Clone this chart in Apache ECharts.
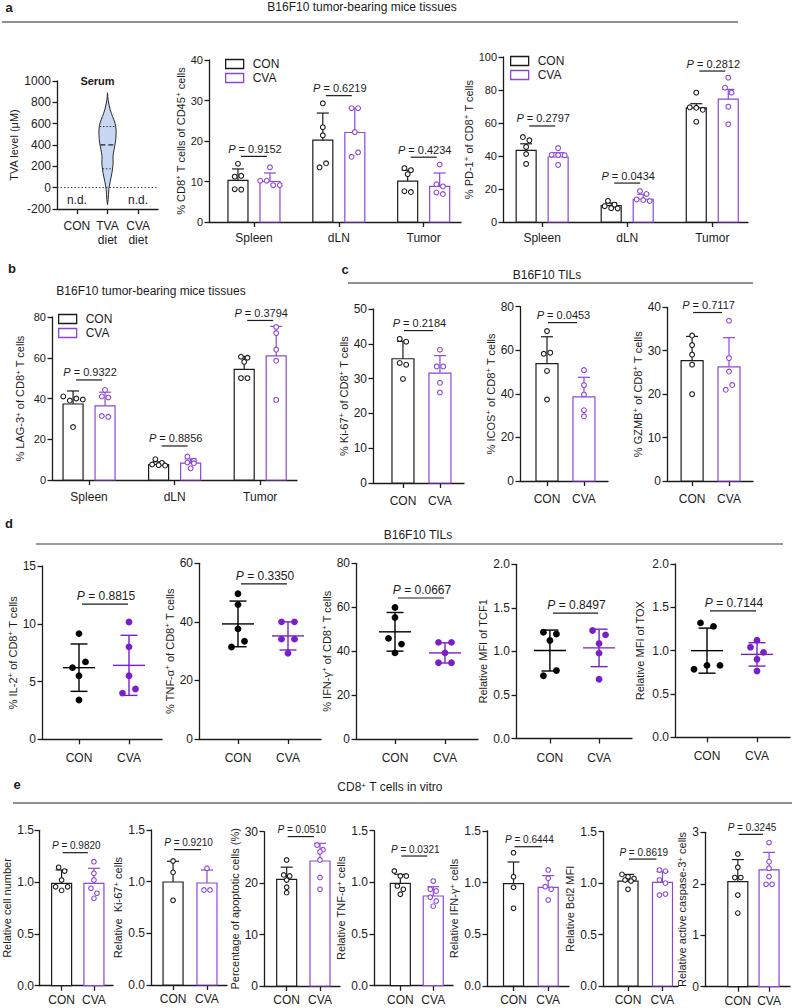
<!DOCTYPE html>
<html><head><meta charset="utf-8">
<script src="https://cdn.jsdelivr.net/npm/echarts@6/dist/echarts.min.js"></script>
<style>html,body{margin:0;padding:0;background:#fff}#chart{width:793px;height:1008px}</style>
</head><body><div id="chart"></div>
<script>
// ================= DATA =================
// a (left): serum TVA violin
const violinGroups = ['CON', 'TVA\ndiet', 'CVA\ndiet'];
const violinLevels = [-160, -110, -15, 60, 140, 230, 295, 370, 450, 540, 605, 665, 730, 820, 890];
const violinDensity = [0, 0.08, 0.16, 0.32, 0.52, 0.66, 0.64, 0.8, 0.96, 1.0, 0.88, 0.6, 0.32, 0.08, 0];
const violinQuartiles = [177, 402, 573];

const tissues = ['Spleen', 'dLN', 'Tumor'];
const twoGroups = ['CON', 'CVA'];

// a (middle): % CD8+ of CD45+
const cd45ConMean = [10.3, 20.2, 10.1];
const cd45ConSD = [2.8, 6.7, 2.7];
const cd45ConPts = [[14.4, 11.2, 11.4, 8.1, 8.0], [29.3, 23.4, 21.4, 13.5, 14.5], [13.3, 12.8, 11.8, 7.6, 7.4]];
const cd45CvaMean = [10.0, 22.1, 8.8];
const cd45CvaSD = [2.1, 6.0, 3.3];
const cd45CvaPts = [[13.5, 10.2, 10.2, 9.1, 9.1], [28.1, 28.1, 22.2, 16.1, 17.2], [14.2, 9.3, 8.8, 7.3, 6.9]];
const cd45P = ['0.9152', '0.6219', '0.4234'];
const cd45PY = [16.2, 31.2, 16.0];

// a (right): % PD-1+ of CD8+
const pd1ConMean = [43.4, 10.0, 69.2];
const pd1ConSD = [4.0, 1.5, 2.5];
const pd1ConPts = [[51.5, 49.5, 45.5, 41.2, 35.2], [12.8, 10.5, 9.6, 8.4, 8.2], [78.4, 69.5, 69.2, 68.0, 60.8]];
const pd1CvaMean = [39.4, 13.8, 74.5];
const pd1CvaSD = [2.6, 3.0, 5.9];
const pd1CvaPts = [[44.8, 40.8, 40.6, 40.5, 34.6], [18.8, 17.0, 13.7, 13.3, 12.7], [87.5, 81.4, 78.4, 69.9, 59.2]];
const pd1P = ['0.2797', '0.0434', '0.2812'];
const pd1PY = [58.2, 23.6, 91.5];

// b: % LAG-3+ of CD8+
const lag3ConMean = [37.3, 7.6, 54.3];
const lag3ConSD = [6.4, 1.3, 6.3];
const lag3ConPts = [[41.0, 39.0, 40.0, 39.5, 26.0], [10.2, 8.4, 7.6, 7.3, 7.1], [60.5, 60.0, 58.0, 50.0, 50.0]];
const lag3CvaMean = [36.4, 8.3, 60.9];
const lag3CvaSD = [6.7, 2.1, 14.5];
const lag3CvaPts = [[44.2, 41.0, 40.5, 31.4, 31.0], [11.5, 9.4, 8.6, 8.2, 5.7], [75.1, 72.1, 64.0, 58.5, 39.3]];
const lag3P = ['0.9322', '0.8856', '0.3794'];
const lag3PY = [49.1, 16.7, 78.3];

// c: B16F10 TILs  [CON, CVA]
const ki67Mean = [35.7, 31.6];
const ki67SD = [5.0, 5.0];
const ki67Pts = [[41.4, 40.6, 34.5, 34.0, 29.9], [38.3, 33.5, 33.5, 28.8, 26.0]];
const ki67P = ['0.2184'];
const ki67PY = [43.8];

const icosMean = [53.9, 38.6];
const icosSD = [12.3, 9.0];
const icosPts = [[68.8, 58.4, 58.9, 50.5, 37.4], [50.9, 44.0, 39.7, 32.5, 29.7]];
const icosP = ['0.0453'];
const icosPY = [72.7];

const gzmbMean = [27.7, 26.3];
const gzmbSD = [5.6, 6.7];
const gzmbPts = [[33.5, 31.3, 29.1, 26.8, 20.0], [36.9, 28.3, 25.2, 21.0, 22.1]];
const gzmbP = ['0.7117'];
const gzmbPY = [38.8];

// d: B16F10 TILs (mean ± SD)
const il2Mean = [6.2, 6.4];
const il2SD = [2.05, 2.6];
const il2Pts = [[9.15, 6.2, 6.7, 5.5, 3.4], [10.15, 8.0, 5.5, 4.0, 4.35]];
const il2P = ['0.8815'];
const il2PY = [11.7];

const tnfMean = [39.3, 35.2];
const tnfSD = [7.8, 4.8];
const tnfPts = [[49.6, 45.9, 37.6, 31.4, 33.4], [40.0, 40.0, 34.1, 34.1, 29.3]];
const tnfP = ['0.3350'];
const tnfPY = [53.0];

const ifnMean = [48.8, 39.2];
const ifnSD = [8.8, 4.6];
const ifnPts = [[59.9, 55.3, 45.8, 43.2, 39.2], [44.0, 44.0, 39.2, 34.7, 34.7]];
const ifnP = ['0.0667'];
const ifnPY = [64.2];

const tcf1Mean = [1.01, 1.04];
const tcf1SD = [0.235, 0.215];
const tcf1Pts = [[1.22, 1.20, 1.125, 0.72, 0.78], [1.24, 1.19, 1.09, 0.98, 0.68]];
const tcf1P = ['0.8497'];
const tcf1PY = [1.44];

const toxMean = [1.0, 0.957];
const toxSD = [0.26, 0.135];
const toxPts = [[1.32, 1.28, 0.785, 0.83, 0.83], [1.12, 1.04, 0.98, 0.9, 0.765]];
const toxP = ['0.7144'];
const toxPY = [1.46];

// e: CD8+ T cells in vitro
const cellMean = [0.988, 0.988];
const cellSD = [0.129, 0.145];
const cellPts = [[1.143, 1.107, 1.02, 0.955, 0.92, 0.955], [1.197, 1.085, 1.02, 0.94, 0.892, 0.843]];
const cellP = ['0.9820'];
const cellPY = [1.284];

const ki67eMean = [0.997, 0.987];
const ki67eSD = [0.2, 0.126];
const ki67ePts = [[1.2, 1.09, 0.82], [1.13, 0.92, 0.92]];
const ki67eP = ['0.9210'];
const ki67ePY = [1.31];

const apopMean = [20.75, 24.3];
const apopSD = [2.35, 3.45];
const apopPts = [[24.5, 21.6, 20.6, 21.4, 19.2, 18.15], [27.4, 26.5, 26.1, 24.5, 21.1, 18.8]];
const apopP = ['0.0510'];
const apopPY = [29.05];

const tnfeMean = [0.99, 0.868];
const tnfeSD = [0.088, 0.09];
const tnfePts = [[1.11, 1.062, 1.062, 0.965, 0.933, 0.885], [1.013, 0.933, 0.917, 0.856, 0.82, 0.77]];
const tnfeP = ['0.0321'];
const tnfePY = [1.255];

const ifneMean = [0.99, 0.955];
const ifneSD = [0.21, 0.113];
const ifnePts = [[1.29, 1.058, 0.955, 0.752], [1.123, 1.042, 0.961, 0.936, 0.832]];
const ifneP = ['0.6444'];
const ifnePY = [1.348];

const bcl2Mean = [1.02, 1.008];
const bcl2SD = [0.065, 0.103];
const bcl2Pts = [[1.085, 1.062, 1.046, 1.03, 1.02, 0.94], [1.127, 1.117, 1.03, 1.0, 0.884, 0.894]];
const bcl2P = ['0.8619'];
const bcl2PY = [1.234];

const caspMean = [2.04, 2.27];
const caspSD = [0.43, 0.34];
const caspPts = [[2.58, 2.32, 2.12, 2.12, 1.78, 1.43], [2.80, 2.43, 2.30, 2.14, 1.99, 1.99]];
const caspP = ['0.3245'];
const caspPY = [2.96];

// ================= STYLE / LAYOUT =================
const FONT = 'Liberation Sans, Arial, Helvetica, sans-serif';
const INK = '#1c1c1c';
const PURPLE = '#8d47d8';
const PURPLE_D = '#7a1fc7';

const option = { backgroundColor: '#fff', animation: false, title: [], grid: [], xAxis: [], yAxis: [], series: [], legend: [], graphic: [] };

function richSup(fs, colorKey) {
  const s = { fontSize: Math.round(fs * 0.7), lineHeight: 8, verticalAlign: 'top', fontFamily: FONT };
  s[colorKey] = INK;
  return { s: s };
}

function swarm(ys, tol, step) {
  const n = ys.length;
  const order = ys.map((_, i) => i).sort((a, b) => (ys[a] - ys[b]) || (a - b));
  const offs = new Array(n).fill(0);
  let row = [];
  const flush = () => {
    const r = row.slice().sort((a, b) => a - b);
    r.forEach((id, j) => { offs[id] = (j - (r.length - 1) / 2) * step; });
  };
  order.forEach(id => {
    if (row.length && ys[id] - ys[row[0]] >= tol) { flush(); row = []; }
    row.push(id);
  });
  if (row.length) flush();
  return offs;
}

function groupRenderer(kind, st, color, pts, dx) {
  return function (params, api) {
    const i = params.dataIndex;
    const x = api.value(0), m = api.value(1), sd = api.value(2);
    const pM = api.coord([x, m]);
    const cx = pM[0] + dx;
    const ch = [];
    const ls = { stroke: color, lineWidth: st.lw };
    if (kind === 'bar') {
      const pB = api.coord([x, 0]);
      const pH = api.coord([x, m + sd]);
      ch.push({ type: 'rect', shape: { x: cx - st.barW / 2, y: pM[1], width: st.barW, height: pB[1] - pM[1] }, style: { fill: '#fff', stroke: color, lineWidth: st.lw } });
      ch.push({ type: 'line', shape: { x1: cx, y1: pM[1], x2: cx, y2: pH[1] }, style: ls });
      ch.push({ type: 'line', shape: { x1: cx - st.cap, y1: pH[1], x2: cx + st.cap, y2: pH[1] }, style: ls });
    } else {
      const pH = api.coord([x, m + sd]), pL = api.coord([x, m - sd]);
      ch.push({ type: 'line', shape: { x1: cx, y1: pL[1], x2: cx, y2: pH[1] }, style: ls });
      ch.push({ type: 'line', shape: { x1: cx - st.cap, y1: pH[1], x2: cx + st.cap, y2: pH[1] }, style: ls });
      ch.push({ type: 'line', shape: { x1: cx - st.cap, y1: pL[1], x2: cx + st.cap, y2: pL[1] }, style: ls });
      ch.push({ type: 'line', shape: { x1: cx - st.meanHalf, y1: pM[1], x2: cx + st.meanHalf, y2: pM[1] }, style: ls });
    }
    const vals = pts[i];
    const ys = vals.map(v => api.coord([x, v])[1]);
    const offs = swarm(ys, st.tol, st.step);
    vals.forEach((v, k) => {
      ch.push({ type: 'circle', shape: { cx: cx + offs[k], cy: ys[k], r: st.r },
        style: st.filled ? { fill: color } : { fill: '#fff', stroke: color, lineWidth: st.ptLw } });
    });
    return { type: 'group', children: ch };
  };
}

function pRenderer(labels, off1, off2, fs) {
  return function (params, api) {
    const a = api.coord([api.value(0), api.value(1)]);
    const b = api.coord([api.value(2), api.value(1)]);
    const x1 = a[0] + off1, x2 = b[0] + off2, y = a[1];
    return { type: 'group', children: [
      { type: 'line', shape: { x1: x1, y1: y, x2: x2, y2: y }, style: { stroke: INK, lineWidth: 1.2 } },
      { type: 'text', x: (x1 + x2) / 2 + 1, y: y - 2, style: {
        text: '{i|P} = ' + labels[params.dataIndex], fill: INK, fontSize: fs, fontFamily: FONT,
        align: 'center', verticalAlign: 'bottom',
        rich: { i: { fontStyle: 'italic', fontSize: fs, fontFamily: FONT, fill: INK } } } }
    ] };
  };
}

function addAxes(L, cats, yMin, yMax, yInt, yName, yFmt) {
  const gi = option.grid.length;
  option.grid.push({ left: L.x0, top: L.y0, width: L.x1 - L.x0, height: L.y1 - L.y0, containLabel: false, outerBoundsMode: 'none' });
  const ticks = cats.map((c, i) => i + 1);
  option.xAxis.push({ type: 'value', gridIndex: gi, min: L.xMin, max: L.xMax,
    axisLine: { show: true, onZero: false, lineStyle: { color: INK, width: 1.3 } },
    axisTick: { show: true, customValues: ticks, length: 5, lineStyle: { color: INK, width: 1.3 } },
    axisLabel: { show: true, customValues: ticks, formatter: v => cats[Math.round(v) - 1] || '', fontSize: L.xFont, color: INK, fontFamily: FONT, margin: L.xMargin, lineHeight: L.xLineHeight || 14 },
    splitLine: { show: false } });
  option.yAxis.push({ type: 'value', gridIndex: gi, min: yMin, max: yMax, interval: yInt,
    axisLine: { show: true, onZero: false, lineStyle: { color: INK, width: 1.3 } },
    axisTick: { show: true, length: 4.5, lineStyle: { color: INK, width: 1.3 } },
    axisLabel: { fontSize: L.yFont, color: INK, fontFamily: FONT, margin: L.yMargin || 6, formatter: yFmt || (v => String(v)) },
    splitLine: { show: false },
    name: yName, nameLocation: 'middle', nameRotate: 90, nameGap: L.nameGap,
    nameTextStyle: { fontSize: L.nameFont, color: INK, fontFamily: FONT, lineHeight: 12, rich: richSup(L.nameFont, 'color') } });
  return gi;
}

function addPanel(L, cfg) {
  const grouped = cfg.cats.length === 3;
  const gi = addAxes(L, cfg.cats, cfg.yMin, cfg.yMax, cfg.yInt, cfg.yName, cfg.yFmt);
  const st = L.st;
  const groups = [
    { name: 'CON', color: st.conColor, mean: cfg.conMean, sd: cfg.conSD, pts: cfg.conPts, sign: -1, idx: 0 },
    { name: 'CVA', color: st.cvaColor, mean: cfg.cvaMean, sd: cfg.cvaSD, pts: cfg.cvaPts, sign: 1, idx: 1 }
  ];
  groups.forEach(g => {
    let data, pts;
    if (grouped) {
      data = g.mean.map((m, i) => [i + 1, m, g.sd[i]]);
      pts = g.pts;
    } else {
      data = [[g.idx + 1, g.mean[g.idx], g.sd[g.idx]]];
      pts = [g.pts[g.idx]];
    }
    option.series.push({ type: 'custom', name: g.name, xAxisIndex: gi, yAxisIndex: gi, silent: true, z: 2,
      itemStyle: { color: g.color }, data: data,
      renderItem: groupRenderer(st.kind, st, g.color, pts, grouped ? g.sign * L.dx : 0) });
  });
  const pData = grouped ? cfg.pY.map((y, i) => [i + 1, y, i + 1]) : [[1, cfg.pY[0], 2]];
  option.series.push({ type: 'custom', xAxisIndex: gi, yAxisIndex: gi, silent: true, z: 3, data: pData,
    renderItem: pRenderer(cfg.p, L.pOff[0], L.pOff[1], L.pFont) });
}

function addLegend(left, top) {
  option.legend.push({ left: left, top: top, orient: 'vertical', itemWidth: 18, itemHeight: 9, itemGap: 2, padding: 0,
    selectedMode: false, textStyle: { fontSize: 12, color: INK, fontFamily: FONT, padding: [0, 0, 0, 4] },
    data: [
      { name: 'CON', icon: 'rect', itemStyle: { color: '#fff', borderColor: INK, borderWidth: 1.3 } },
      { name: 'CVA', icon: 'rect', itemStyle: { color: '#fff', borderColor: PURPLE, borderWidth: 1.3 } }
    ] });
}

const STY_BAR = { kind: 'bar', barW: 20, cap: 6, lw: 1.2, r: 2.4, ptLw: 1.1, tol: 5, step: 6.5, filled: false, conColor: INK, cvaColor: PURPLE };
const STY_BAR_C = Object.assign({}, STY_BAR, { barW: 22 });
const STY_BAR_E = Object.assign({}, STY_BAR, { barW: 20, r: 2.3, step: 6 });
const STY_DOT = { kind: 'dot', meanHalf: 16, cap: 8.5, lw: 1.4, r: 3.4, tol: 6.5, step: 13, filled: true, conColor: '#000', cvaColor: PURPLE_D };

const fmt1 = v => v.toFixed(1);
const baseA = { yFont: 11, xFont: 12, nameFont: 11, pFont: 11 };

// ---------- panel a: violin ----------
(function () {
  const L = Object.assign({}, baseA, { x0: 57, x1: 158, y0: 81, y1: 209, xMin: 0.35, xMax: 3.65, nameGap: 34, xMargin: 10, yFont: 12 });
  const gi = addAxes(L, violinGroups, -200, 1000, 200, 'TVA level (μM)', null);
  option.series.push({ type: 'custom', xAxisIndex: gi, yAxisIndex: gi, silent: true, z: 2, data: [[2, violinQuartiles[1]]],
    renderItem: function (params, api) {
      const xc = api.value(0), maxHalf = 0.28;
      const right = [], left = [];
      violinLevels.forEach((lv, k) => {
        right.push(api.coord([xc + violinDensity[k] * maxHalf, lv]));
        left.push(api.coord([xc - violinDensity[k] * maxHalf, lv]));
      });
      const poly = right.concat(left.reverse());
      const dens = q => {
        for (let k = 0; k < violinLevels.length - 1; k++) {
          if (q >= violinLevels[k] && q <= violinLevels[k + 1]) {
            const t = (q - violinLevels[k]) / (violinLevels[k + 1] - violinLevels[k]);
            return violinDensity[k] + t * (violinDensity[k + 1] - violinDensity[k]);
          }
        }
        return 0;
      };
      const ch = [{ type: 'polygon', shape: { points: poly, smooth: 0.35 }, style: { fill: '#c8d7f4', stroke: '#2a2a2a', lineWidth: 1 } }];
      violinQuartiles.forEach((q, k) => {
        const w = dens(q) * maxHalf * 0.97;
        const a = api.coord([xc - w, q]), b = api.coord([xc + w, q]);
        ch.push({ type: 'line', shape: { x1: a[0], y1: a[1], x2: b[0], y2: b[1] },
          style: k === 1 ? { stroke: '#222', lineWidth: 1.3, lineDash: [5, 3] } : { stroke: '#333', lineWidth: 1, lineDash: [1.5, 1.8] } });
      });
      return { type: 'group', children: ch };
    },
    markLine: { silent: true, symbol: 'none', data: [{ yAxis: 0 }], label: { show: false },
      lineStyle: { type: [1.5, 2], color: '#444', width: 1 } } });
  // "n.d." annotations at the CON and CVA diet groups
  option.series.push({ type: 'custom', xAxisIndex: gi, yAxisIndex: gi, silent: true, z: 3, data: [[1, 0], [3, 0]],
    renderItem: function (params, api) {
      const p = api.coord([api.value(0), api.value(1)]);
      return { type: 'text', x: p[0], y: p[1] + 12, style: { text: 'n.d.', fill: INK, fontSize: 12, fontFamily: FONT, align: 'center', verticalAlign: 'middle' } };
    } });
})();

// ---------- panel a: CD45 / PD-1 ----------
addPanel(Object.assign({}, baseA, { x0: 209, x1: 461, y0: 60, y1: 222, xMin: 0.47, xMax: 3.44, nameGap: 18, xMargin: 8.5, dx: 16, pOff: [-13, 13], st: STY_BAR }),
  { cats: tissues, yMin: 0, yMax: 40, yInt: 10, yName: '% CD8{s|+} T cells of CD45{s|+} cells',
    conMean: cd45ConMean, conSD: cd45ConSD, conPts: cd45ConPts, cvaMean: cd45CvaMean, cvaSD: cd45CvaSD, cvaPts: cd45CvaPts, p: cd45P, pY: cd45PY });
addLegend(225, 58);
addPanel(Object.assign({}, baseA, { x0: 503, x1: 748, y0: 57, y1: 222, xMin: 0.54, xMax: 3.42, nameGap: 22, xMargin: 8.5, dx: 16, pOff: [-13, 13], st: STY_BAR }),
  { cats: tissues, yMin: 0, yMax: 100, yInt: 20, yName: '% PD-1{s|+} of CD8{s|+} T cells',
    conMean: pd1ConMean, conSD: pd1ConSD, conPts: pd1ConPts, cvaMean: pd1CvaMean, cvaSD: pd1CvaSD, cvaPts: pd1CvaPts, p: pd1P, pY: pd1PY });
addLegend(510, 55);

// ---------- panel b ----------
addPanel(Object.assign({}, baseA, { x0: 52, x1: 297, y0: 317, y1: 480, xMin: 0.567, xMax: 3.43, nameGap: 26, xMargin: 10, dx: 16, pOff: [-13, 13], st: STY_BAR }),
  { cats: tissues, yMin: 0, yMax: 80, yInt: 20, yName: '% LAG-3{s|+} of CD8{s|+} T cells',
    conMean: lag3ConMean, conSD: lag3ConSD, conPts: lag3ConPts, cvaMean: lag3CvaMean, cvaSD: lag3CvaSD, cvaPts: lag3CvaPts, p: lag3P, pY: lag3PY });
addLegend(58, 313);

// ---------- panel c ----------
const baseC = Object.assign({}, baseA, { yFont: 12, xMargin: 11, pOff: [1, -7], st: STY_BAR_C });
addPanel(Object.assign({}, baseC, { x0: 373, x1: 464, y0: 309, y1: 483, xMin: 0.19, xMax: 2.65, nameGap: 20 }),
  { cats: twoGroups, yMin: 0, yMax: 50, yInt: 10, yName: '% Ki-67{s|+} of CD8{s|+} T cells',
    conMean: ki67Mean, conSD: ki67SD, conPts: ki67Pts, cvaMean: ki67Mean, cvaSD: ki67SD, cvaPts: ki67Pts, p: ki67P, pY: ki67PY });
addPanel(Object.assign({}, baseC, { x0: 520, x1: 608, y0: 306.7, y1: 481, xMin: 0.27, xMax: 2.65, nameGap: 20 }),
  { cats: twoGroups, yMin: 0, yMax: 80, yInt: 20, yName: '% ICOS{s|+} of CD8{s|+} T cells',
    conMean: icosMean, conSD: icosSD, conPts: icosPts, cvaMean: icosMean, cvaSD: icosSD, cvaPts: icosPts, p: icosP, pY: icosPY });
addPanel(Object.assign({}, baseC, { x0: 667, x1: 753, y0: 307.3, y1: 481, xMin: 0.32, xMax: 2.65, nameGap: 23 }),
  { cats: twoGroups, yMin: 0, yMax: 40, yInt: 10, yName: '% GZMB{s|+} of CD8{s|+} T cells',
    conMean: gzmbMean, conSD: gzmbSD, conPts: gzmbPts, cvaMean: gzmbMean, cvaSD: gzmbSD, cvaPts: gzmbPts, p: gzmbP, pY: gzmbPY });

// ---------- panel d ----------
const baseD = { yFont: 12, xFont: 12, nameFont: 11, pFont: 12, xMargin: 12, pOff: [3, -1], st: STY_DOT };
addPanel(Object.assign({}, baseD, { x0: 42, x1: 162, y0: 566, y1: 739.3, xMin: 0.26, xMax: 2.66, nameGap: 20 }),
  { cats: twoGroups, yMin: 0, yMax: 15, yInt: 5, yName: '% IL-2{s|+} of CD8{s|+} T cells',
    conMean: il2Mean, conSD: il2SD, conPts: il2Pts, cvaMean: il2Mean, cvaSD: il2SD, cvaPts: il2Pts, p: il2P, pY: il2PY });
addPanel(Object.assign({}, baseD, { x0: 199, x1: 321, y0: 563.3, y1: 739, xMin: 0.22, xMax: 2.66, nameGap: 18 }),
  { cats: twoGroups, yMin: 0, yMax: 60, yInt: 20, yName: '% TNF-α{s|+} of CD8{s|+} T cells',
    conMean: tnfMean, conSD: tnfSD, conPts: tnfPts, cvaMean: tnfMean, cvaSD: tnfSD, cvaPts: tnfPts, p: tnfP, pY: tnfPY });
addPanel(Object.assign({}, baseD, { x0: 356, x1: 478, y0: 563.3, y1: 739, xMin: 0.22, xMax: 2.66, nameGap: 18 }),
  { cats: twoGroups, yMin: 0, yMax: 80, yInt: 20, yName: '% IFN-γ{s|+} of CD8{s|+} T cells',
    conMean: ifnMean, conSD: ifnSD, conPts: ifnPts, cvaMean: ifnMean, cvaSD: ifnSD, cvaPts: ifnPts, p: ifnP, pY: ifnPY });
addPanel(Object.assign({}, baseD, { x0: 516, x1: 632, y0: 564.3, y1: 738.5, xMin: 0.31, xMax: 2.67, nameGap: 24 }),
  { cats: twoGroups, yMin: 0, yMax: 2, yInt: 0.5, yFmt: fmt1, yName: 'Relative MFI of TCF1',
    conMean: tcf1Mean, conSD: tcf1SD, conPts: tcf1Pts, cvaMean: tcf1Mean, cvaSD: tcf1SD, cvaPts: tcf1Pts, p: tcf1P, pY: tcf1PY });
addPanel(Object.assign({}, baseD, { x0: 675, x1: 790, y0: 564, y1: 737.3, xMin: 0.36, xMax: 2.66, nameGap: 29 }),
  { cats: twoGroups, yMin: 0, yMax: 2, yInt: 0.5, yFmt: fmt1, yName: 'Relative MFI of TOX',
    conMean: toxMean, conSD: toxSD, conPts: toxPts, cvaMean: toxMean, cvaSD: toxSD, cvaPts: toxPts, p: toxP, pY: toxPY });

// ---------- panel e ----------
const baseE = { yFont: 12, xFont: 12, xLineHeight: 12, nameFont: 11, pFont: 10, xMargin: 8, pOff: [1, -6], st: STY_BAR_E };
addPanel(Object.assign({}, baseE, { x0: 39, x1: 113, y0: 830.3, y1: 985.7, xMin: 0.3, xMax: 2.59, nameGap: 19, yMargin: 5 }),
  { cats: twoGroups, yMin: 0, yMax: 1.5, yInt: 0.5, yFmt: fmt1, yName: 'Relative cell number',
    conMean: cellMean, conSD: cellSD, conPts: cellPts, cvaMean: cellMean, cvaSD: cellSD, cvaPts: cellPts, p: cellP, pY: cellPY });
addPanel(Object.assign({}, baseE, { x0: 151, x1: 227, y0: 830, y1: 985, xMin: 0.35, xMax: 2.59, nameGap: 22 }),
  { cats: twoGroups, yMin: 0, yMax: 1.5, yInt: 0.5, yFmt: fmt1, yName: 'Relative  Ki-67{s|+} cells',
    conMean: ki67eMean, conSD: ki67eSD, conPts: ki67ePts, cvaMean: ki67eMean, cvaSD: ki67eSD, cvaPts: ki67ePts, p: ki67eP, pY: ki67ePY });
addPanel(Object.assign({}, baseE, { x0: 264, x1: 340, y0: 831.7, y1: 986, xMin: 0.32, xMax: 2.6, nameGap: 19 }),
  { cats: twoGroups, yMin: 0, yMax: 30, yInt: 10, yName: 'Percentage of apoptotic cells (%)',
    conMean: apopMean, conSD: apopSD, conPts: apopPts, cvaMean: apopMean, cvaSD: apopSD, cvaPts: apopPts, p: apopP, pY: apopPY });
addPanel(Object.assign({}, baseE, { x0: 374, x1: 453, y0: 830.7, y1: 985.7, xMin: 0.2, xMax: 2.6, nameGap: 17 }),
  { cats: twoGroups, yMin: 0, yMax: 1.5, yInt: 0.5, yFmt: fmt1, yName: 'Relative TNF-α{s|+} cells',
    conMean: tnfeMean, conSD: tnfeSD, conPts: tnfePts, cvaMean: tnfeMean, cvaSD: tnfeSD, cvaPts: tnfePts, p: tnfeP, pY: tnfePY });
addPanel(Object.assign({}, baseE, { x0: 487, x1: 569, y0: 831, y1: 986, xMin: 0.235, xMax: 2.6, nameGap: 18 }),
  { cats: twoGroups, yMin: 0, yMax: 1.5, yInt: 0.5, yFmt: fmt1, yName: 'Relative IFN-γ{s|+} cells',
    conMean: ifneMean, conSD: ifneSD, conPts: ifnePts, cvaMean: ifneMean, cvaSD: ifneSD, cvaPts: ifnePts, p: ifneP, pY: ifnePY });
addPanel(Object.assign({}, baseE, { x0: 603, x1: 678, y0: 831.7, y1: 986, xMin: 0.275, xMax: 2.45, nameGap: 21 }),
  { cats: twoGroups, yMin: 0, yMax: 1.5, yInt: 0.5, yFmt: fmt1, yName: 'Relative Bcl2 MFI',
    conMean: bcl2Mean, conSD: bcl2SD, conPts: bcl2Pts, cvaMean: bcl2Mean, cvaSD: bcl2SD, cvaPts: bcl2Pts, p: bcl2P, pY: bcl2PY });
addPanel(Object.assign({}, baseE, { x0: 705, x1: 790, y0: 832.3, y1: 986.7, xMin: -0.05, xMax: 2.67, nameGap: 8 }),
  { cats: twoGroups, yMin: 0, yMax: 3, yInt: 1, yName: 'Relative active caspase-3{s|+} cells',
    conMean: caspMean, conSD: caspSD, conPts: caspPts, cvaMean: caspMean, cvaSD: caspSD, cvaPts: caspPts, p: caspP, pY: caspPY });

// ---------- titles, letters, header rules ----------
function addTitle(x, y, text, fs, bold) {
  option.title.push({ text: text, left: x, top: y, textAlign: 'center', textVerticalAlign: 'middle', padding: 0,
    textStyle: { fontSize: fs, fontWeight: bold ? 'bold' : 'normal', fontFamily: FONT, color: INK,
      rich: richSup(fs, 'color') } });
}
function gLine(x1, x2, y, color, w) {
  option.graphic.push({ type: 'line', silent: true, shape: { x1: x1, y1: y, x2: x2, y2: y }, style: { stroke: color, lineWidth: w } });
}
addTitle(9, 7, 'a', 13, true);
addTitle(12, 268, 'b', 13, true);
addTitle(345, 269, 'c', 13, true);
addTitle(9, 523, 'd', 13, true);
addTitle(17, 784, 'e', 13, true);
addTitle(362, 7, 'B16F10 tumor-bearing mice tissues', 12);
gLine(2, 738, 22, '#222', 1);
addTitle(97.5, 81, 'Serum', 11, true);
addTitle(151, 291, 'B16F10 tumor-bearing mice tissues', 12);
addTitle(547, 275, 'B16F10 TILs', 12);
gLine(348, 753, 283, '#222', 1);
addTitle(418, 535, 'B16F10 TILs', 12);
gLine(36, 783, 544, '#333', 1);
addTitle(390, 787, 'CD8{s|+} T cells in vitro', 12);
gLine(13, 792, 803, '#6f6f6f', 1.5);

const chart = echarts.init(document.getElementById('chart'), null, { renderer: 'svg', width: 793, height: 1008 });
chart.setOption(option);
</script></body></html>
